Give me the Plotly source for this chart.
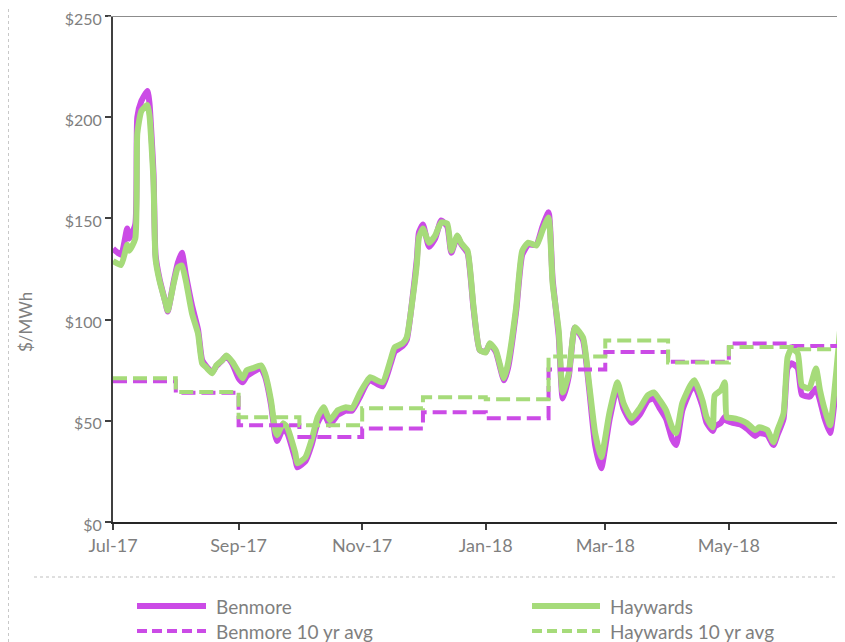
import plotly.graph_objects as go

# ---- data ----
dates = [
    "2017-07-01", "2017-07-05", "2017-07-08", "2017-07-09", "2017-07-12", "2017-07-13", "2017-07-15",
    "2017-07-18", "2017-07-19", "2017-07-21", "2017-07-22", "2017-07-24", "2017-07-27", "2017-07-28",
    "2017-07-31", "2017-08-02", "2017-08-04", "2017-08-06", "2017-08-09", "2017-08-12", "2017-08-14",
    "2017-08-16", "2017-08-19", "2017-08-21", "2017-08-24", "2017-08-26", "2017-08-29", "2017-09-01",
    "2017-09-03", "2017-09-05", "2017-09-08", "2017-09-12", "2017-09-14", "2017-09-17", "2017-09-19",
    "2017-09-20", "2017-09-23", "2017-09-25", "2017-09-29", "2017-09-30", "2017-10-04", "2017-10-07",
    "2017-10-10", "2017-10-13", "2017-10-16", "2017-10-20", "2017-10-24", "2017-10-27", "2017-10-31",
    "2017-11-03", "2017-11-05", "2017-11-11", "2017-11-15", "2017-11-17", "2017-11-21", "2017-11-23",
    "2017-11-26", "2017-11-28", "2017-11-29", "2017-12-01", "2017-12-04", "2017-12-07", "2017-12-10",
    "2017-12-13", "2017-12-15", "2017-12-18", "2017-12-20", "2017-12-23", "2017-12-26", "2017-12-29",
    "2018-01-01", "2018-01-03", "2018-01-06", "2018-01-10", "2018-01-12", "2018-01-16", "2018-01-19",
    "2018-01-22", "2018-01-26", "2018-01-29", "2018-02-01", "2018-02-03", "2018-02-06", "2018-02-08",
    "2018-02-11", "2018-02-14", "2018-02-18", "2018-02-21", "2018-02-24", "2018-02-27", "2018-03-03",
    "2018-03-07", "2018-03-10", "2018-03-14", "2018-03-18", "2018-03-22", "2018-03-25", "2018-03-28",
    "2018-03-31", "2018-04-03", "2018-04-05", "2018-04-08", "2018-04-12", "2018-04-14", "2018-04-18",
    "2018-04-20", "2018-04-23", "2018-04-24", "2018-04-27", "2018-04-29", "2018-04-30", "2018-05-03",
    "2018-05-07", "2018-05-10", "2018-05-14", "2018-05-16", "2018-05-20", "2018-05-23", "2018-05-25",
    "2018-05-28", "2018-05-30", "2018-06-01", "2018-06-04", "2018-06-06", "2018-06-09", "2018-06-10",
    "2018-06-13", "2018-06-15", "2018-06-17", "2018-06-20", "2018-06-22", "2018-06-24", "2018-06-26",
    "2018-06-27",
]

haywards = [
    129, 127, 137, 134, 140, 192, 203,
    206, 201, 168, 130, 119, 108, 104.5,
    118, 125.7, 126.7, 119, 103, 93, 78.4,
    76.4, 73.5, 77.4, 80, 82.3, 79, 74,
    71, 75, 76, 77.4, 73.5, 60, 45.4,
    42.9, 48.8, 46.8, 34, 29, 32, 40.4,
    51.8, 56.7, 50.3, 55.2, 56.7, 56.2, 64,
    69, 71.5, 69, 80, 86.3, 88.3, 91.2,
    111, 127.7, 140.5, 145, 138, 141.5, 148,
    147.4, 134, 141.5, 137.6, 134, 106, 85,
    83.8, 88.3, 84.8, 71, 78.4, 106, 134,
    138, 136.6, 144, 150.4, 118, 94.7, 64,
    73.5, 96.2, 91.2, 68.5, 43.9, 32, 53.7,
    69, 58.7, 51.3, 56.2, 62.6, 64, 60,
    55.2, 46.8, 43.9, 58.7, 67.5, 70, 60,
    51.8, 46.8, 62.6, 65, 69, 51.8, 51.3,
    50.3, 48.8, 45.4, 46.8, 45.4, 39.4, 45.4,
    53.7, 81.4, 85.8, 83.3, 67.5, 66, 66.6,
    75.9, 65, 56.7, 47.8, 63.6, 84.8, 109,
    160,
]

benmore = [
    135, 132, 145, 140, 147, 200, 208,
    213, 207, 172, 132, 120, 108, 104,
    119, 128, 133, 122, 107, 95, 80,
    77, 74, 77, 80, 82, 78, 71,
    69, 72, 74, 76, 72, 58, 43,
    40, 46, 44, 31, 27, 30, 38,
    49, 54, 48, 53, 55, 55, 62,
    68, 70, 67, 78, 84, 87, 90,
    112, 130, 143, 147, 136, 140, 149,
    146, 133, 141, 137, 133, 105, 85,
    84, 88, 84, 70, 76, 104, 132,
    137, 137, 146, 153, 120, 92, 61,
    72, 96, 90, 66, 38, 26.6, 50,
    67, 56, 49, 53, 60, 61, 56,
    51, 41, 38, 55, 65, 67.5, 57,
    49, 45, 47, 49, 52, 50, 49,
    48, 46, 42.5, 44, 43, 38, 43,
    51, 76, 78.4, 76, 63, 62, 62,
    66, 60, 52, 44, 58, 78, 83,
    85,
]

avg_months = [
    "2017-07-01", "2017-08-01", "2017-09-01", "2017-10-01", "2017-11-01", "2017-12-01",
    "2018-01-01", "2018-02-01", "2018-03-01", "2018-04-01", "2018-05-01", "2018-06-01", "2018-06-30",
]
benmore_avg = [69.5, 63.8, 47.8, 42, 46.2, 54.2, 51.3, 75.4, 84, 79.2, 88.2, 87, 87]
haywards_avg = [71, 64.2, 51.8, 47.8, 56.2, 61.6, 60.6, 81.8, 89.7, 78.8, 86.5, 85.3, 85.3]

series_names = ["Benmore", "Haywards", "Benmore 10 yr avg", "Haywards 10 yr avg"]
y_tick_vals = [0, 50, 100, 150, 200, 250]
y_tick_text = ["$0", "$50", "$100", "$150", "$200", "$250"]

# ---- style ----
MAG = "#CB4BE6"
GRN = "#A6DB7A"
TXT = "#7F7F7F"
FONT = "Lato"

fig = go.Figure()
fig.add_trace(go.Scatter(x=dates, y=benmore, name=series_names[0], mode="lines",
                         line=dict(color=MAG, width=6, shape="spline", smoothing=0.5)))
fig.add_trace(go.Scatter(x=dates, y=haywards, name=series_names[1], mode="lines",
                         line=dict(color=GRN, width=6, shape="spline", smoothing=0.5)))
fig.add_trace(go.Scatter(x=avg_months, y=benmore_avg, name=series_names[2], mode="lines",
                         line=dict(color=MAG, width=4, shape="hv", dash="14px,6px")))
fig.add_trace(go.Scatter(x=avg_months, y=haywards_avg, name=series_names[3], mode="lines",
                         line=dict(color=GRN, width=4, shape="hv", dash="14px,6px")))

# the page adds an 8px body margin, so figure coords = page coords - 8
OFF = 8
W, H = 845 - OFF, 642 - OFF
L, R, T = 113 - OFF, 0, 16 - OFF
B = H - (522 - OFF)
pw, ph = W - L - R, H - T - B

def px_x(x):
    # x given in reference page pixels
    return (x - OFF - L) / pw

def px_y(y):
    return (H - B - (y - OFF)) / ph

shapes = [
    # top border of plot area
    dict(type="line", xref="paper", yref="y", x0=px_x(108), x1=1, y0=250, y1=250,
         line=dict(color="#8C8C8C", width=2)),
    # dotted separator above legend
    dict(type="line", xref="paper", yref="paper", x0=px_x(34), x1=1, y0=px_y(577), y1=px_y(577),
         line=dict(color="#BFBFBF", width=1, dash="dot")),
    # left dotted border
    dict(type="line", xref="paper", yref="paper", x0=px_x(8.5), x1=px_x(8.5), y0=px_y(642), y1=px_y(8),
         line=dict(color="#C8C8C8", width=1, dash="dot")),
]

annotations = [
    dict(text="$/MWh", xref="paper", yref="paper", x=px_x(25), y=px_y(322), textangle=-90,
         showarrow=False, font=dict(family=FONT, size=17, color=TXT), xanchor="center", yanchor="middle"),
]

# manual legend (two columns, two rows)
legend_items = [
    (series_names[0], MAG, 6, None, 137, 206, 214, 606),
    (series_names[1], GRN, 6, None, 532, 600, 608, 606),
    (series_names[2], MAG, 4, "10px,5px", 137, 206, 214, 631),
    (series_names[3], GRN, 4, "10px,5px", 532, 600, 608, 631),
]
for name, col, w, dash, xa, xb, xt, yy in legend_items:
    ln = dict(color=col, width=w)
    if dash:
        ln["dash"] = dash
    shapes.append(dict(type="line", xref="paper", yref="paper", x0=px_x(xa), x1=px_x(xb),
                       y0=px_y(yy), y1=px_y(yy), line=ln))
    annotations.append(dict(text=name, xref="paper", yref="paper", x=px_x(xt), y=px_y(yy),
                            xanchor="left", yanchor="middle", showarrow=False,
                            font=dict(family=FONT, size=19, color=TXT)))

fig.update_layout(
    width=W, height=H,
    margin=dict(l=L, r=R, t=T, b=B, autoexpand=False),
    paper_bgcolor="white", plot_bgcolor="white",
    showlegend=False,
    font=dict(family=FONT, size=16, color=TXT),
    shapes=shapes,
    annotations=annotations,
)
fig.update_xaxes(
    type="date",
    range=["2017-07-01", "2018-06-27 08:00"],
    tick0="2017-07-01", dtick="M2", tickformat="%b-%y",
    ticks="outside", ticklen=6, tickwidth=1.5, tickcolor="#404040",
    showline=True, linecolor="#262626", linewidth=2,
    showgrid=False, zeroline=False,
    tickfont=dict(family=FONT, size=18, color=TXT),
)
fig.update_yaxes(
    range=[0, 250], tickmode="array",
    tickvals=y_tick_vals, ticktext=y_tick_text,
    ticklabeloverflow="allow", ticklabelshift=3,
    ticks="outside", ticklen=6, tickwidth=1.5, tickcolor="#404040",
    showline=True, linecolor="#404040", linewidth=2,
    showgrid=False, zeroline=False,
    tickfont=dict(family=FONT, size=16, color=TXT),
)

fig.write_html("out.html")
